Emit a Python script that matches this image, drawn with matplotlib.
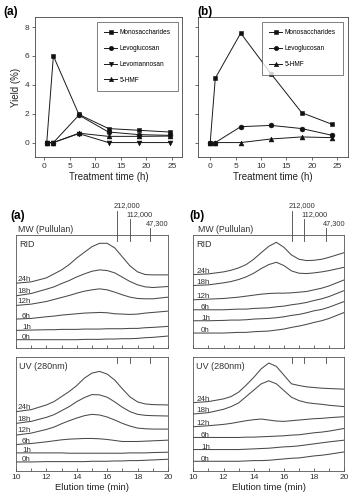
import matplotlib
matplotlib.use('Agg')
import matplotlib.pyplot as plt
from matplotlib.ticker import MultipleLocator, NullLocator
import matplotlib.transforms as mtransforms

plt.rcParams['font.family'] = ['Liberation Sans', 'DejaVu Sans']

W, H = 352, 494
fig = plt.figure(figsize=(W / 100, H / 100), dpi=100)


def rect(l, r, t, b):
    return [l / W, 1 - b / H, (r - l) / W, (b - t) / H]


# ---------------- data: yields ----------------
time_a = [0.5, 1.8, 6.8, 12.6, 18.6, 24.6]
mono_a = [0, 6.0, 1.95, 0.97, 0.85, 0.73]
levoglucosan_a = [0, 0, 1.9, 0.73, 0.55, 0.5]
levomannosan_a = [0, 0, 0.62, 0, 0, 0]
hmf_a = [0, 0, 0.65, 0.43, 0.43, 0.45]

time_b = [0, 1, 6, 12, 18, 24]
mono_b = [0, 4.46, 7.58, 4.75, 2.07, 1.26]
levoglucosan_b = [0, 0, 1.1, 1.19, 0.97, 0.5]
hmf_b = [0, 0, 0, 0.25, 0.39, 0.34]

yield_ticks = [0, 2, 4, 6, 8]
time_ticks = [0, 5, 10, 15, 20, 25]

# ---------------- data: chromatograms ----------------
elution = [10, 11, 12, 12.5, 13, 13.5, 14, 14.5, 15, 15.5, 16, 16.5, 17, 17.5, 18, 18.5, 19, 20]
hours = ['0h', '1h', '6h', '12h', '18h', '24h']

rid_a = [
    [25, 25, 25, 25, 25, 25, 25, 26, 26, 26, 27, 27, 28, 28, 29, 31, 32, 36],
    [53, 54, 55, 55, 56, 56, 56, 57, 57, 57, 58, 58, 58, 59, 59, 61, 62, 65],
    [87, 89, 94, 96, 99, 101, 103, 105, 106, 107, 106, 103, 102, 101, 102, 105, 107, 111],
    [128, 132, 140, 146, 152, 158, 165, 171, 175, 178, 175, 168, 160, 153, 149, 148, 148, 153],
    [157, 164, 177, 184, 194, 203, 214, 223, 231, 235, 233, 226, 213, 200, 190, 184, 182, 185],
    [195, 199, 211, 223, 235, 251, 271, 288, 305, 315, 315, 301, 274, 247, 229, 221, 220, 220],
]
uv_a = [
    [27, 27, 28, 28, 28, 28, 28, 28, 29, 29, 29, 30, 30, 31, 31, 32, 33, 35],
    [54, 54, 54, 54, 54, 53, 53, 53, 53, 53, 53, 53, 53, 54, 54, 54, 55, 56],
    [79, 82, 87, 90, 93, 95, 96, 97, 97, 96, 94, 91, 88, 88, 88, 89, 90, 92],
    [107, 113, 124, 131, 141, 150, 158, 165, 169, 167, 161, 152, 142, 134, 128, 126, 125, 125],
    [142, 148, 160, 168, 180, 192, 207, 219, 228, 227, 220, 206, 190, 177, 169, 166, 165, 164],
    [177, 183, 197, 207, 222, 237, 255, 277, 292, 297, 289, 271, 245, 221, 206, 200, 198, 197],
]
rid_b = [
    [45, 45, 45, 46, 47, 47, 49, 50, 51, 54, 57, 62, 66, 71, 77, 82, 89, 107],
    [82, 82, 83, 84, 84, 85, 87, 88, 89, 91, 94, 98, 101, 106, 112, 116, 123, 140],
    [115, 115, 115, 116, 117, 117, 119, 120, 121, 124, 126, 130, 133, 137, 143, 148, 155, 173],
    [145, 147, 149, 151, 153, 156, 159, 162, 164, 165, 165, 166, 168, 170, 175, 180, 187, 205],
    [188, 190, 196, 200, 206, 214, 225, 239, 251, 258, 248, 232, 225, 224, 226, 229, 233, 243],
    [221, 223, 229, 234, 241, 251, 267, 287, 306, 318, 303, 280, 267, 263, 264, 267, 273, 287],
]
uv_b = [
    [29, 29, 29, 29, 29, 30, 31, 31, 32, 34, 36, 38, 39, 42, 45, 47, 50, 57],
    [64, 64, 64, 64, 64, 65, 66, 67, 68, 70, 72, 73, 75, 78, 81, 84, 87, 92],
    [100, 100, 100, 100, 100, 101, 101, 102, 103, 104, 105, 107, 108, 111, 114, 116, 119, 127],
    [132, 135, 139, 142, 146, 150, 153, 155, 152, 149, 148, 150, 152, 154, 156, 157, 159, 162],
    [170, 174, 184, 192, 203, 222, 241, 260, 269, 260, 240, 220, 210, 204, 201, 199, 196, 192],
    [204, 207, 215, 222, 235, 256, 279, 305, 322, 312, 286, 260, 255, 251, 249, 247, 246, 244],
]

mw_labels = ['212,000', '112,000', '47,300']
mw_time_a = [16.64, 17.47, 18.79]
mw_time_b = [16.52, 17.35, 18.79]

# ---------------- top panels ----------------
mk = dict(color='#1a1a1a', lw=0.7, markersize=3.5, markeredgewidth=0.4,
          markeredgecolor='#111111', markerfacecolor='#111111')


def style_top(ax, xlim, show_ylabels):
    ax.set_xlim(*xlim)
    ax.set_ylim(-1.0, 8.7)
    ax.set_xticks(time_ticks)
    ax.set_yticks(yield_ticks)
    ax.tick_params(axis='both', direction='out', length=2, width=0.5,
                   labelsize=6, pad=2, colors='#333333')
    if not show_ylabels:
        ax.set_yticklabels([])
    for s in ax.spines.values():
        s.set_linewidth(0.6)
        s.set_color('#444444')
    ax.set_xlabel('Treatment time (h)', fontsize=7, labelpad=2, color='#222222')


def make_legend(ax, right_frac, top_frac):
    leg = ax.legend(loc='upper right', bbox_to_anchor=(right_frac, top_frac),
                    fontsize=4.7, frameon=True, fancybox=False, borderaxespad=0,
                    labelspacing=1.35, handlelength=2.0, handletextpad=0.4,
                    borderpad=1.1, markerscale=0.9)
    leg.get_frame().set_edgecolor('#444444')
    leg.get_frame().set_linewidth(0.6)
    return leg


ax1 = fig.add_axes(rect(35, 182, 17, 157))
ax1.plot(time_a, mono_a, marker='s', label='Monosaccharides', **mk)
ax1.plot(time_a, levoglucosan_a, marker='o', label='Levoglucosan', **mk)
ax1.plot(time_a, levomannosan_a, marker='v', label='Levomannosan', **mk)
ax1.plot(time_a, hmf_a, marker='^', label='5-HMF', **mk)
style_top(ax1, (-1.8, 27.0), True)
ax1.set_ylabel('Yield (%)', fontsize=7, labelpad=3, color='#222222')
make_legend(ax1, (178 - 35) / 147, (157 - 22) / 140)

ax2 = fig.add_axes(rect(198, 348, 17, 157))
ax2.plot(time_b, mono_b, marker='s', label='Monosaccharides', **mk)
ax2.plot(time_b, levoglucosan_b, marker='o', label='Levoglucosan', **mk)
ax2.plot(time_b, hmf_b, marker='^', label='5-HMF', **mk)
style_top(ax2, (-2.4, 27.1), False)
make_legend(ax2, (343 - 198) / 150, (157 - 22) / 140)

fig.text(3 / W, 1 - 12.5 / H, '(a)', fontsize=8.5, fontweight='bold', va='center', ha='left')
fig.text(197 / W, 1 - 12.5 / H, '(b)', fontsize=8.5, fontweight='bold', va='center', ha='left')

# ---------------- chromatograms ----------------
trace_kw = dict(color='#4a4a4a', lw=0.75)


def style_chrom(ax, bottom_labels):
    ax.set_xlim(10, 20)
    ax.set_ylim(0, 340)
    ax.yaxis.set_major_locator(NullLocator())
    ax.xaxis.set_major_locator(MultipleLocator(2))
    ax.xaxis.set_minor_locator(MultipleLocator(1))
    ax.tick_params(axis='x', which='both', direction='in', length=2.5, width=0.5,
                   labelsize=6, pad=2, colors='#333333')
    if not bottom_labels:
        ax.set_xticklabels([])
    for s in ax.spines.values():
        s.set_linewidth(0.6)
        s.set_color('#555555')


def draw_traces(ax, traces, label_x):
    for name, tr in zip(hours, traces):
        ax.plot(elution, tr, **trace_kw)
        ax.text(label_x, tr[1] + 2, name, fontsize=5.8, ha='right', va='baseline',
                color='#333333')


def mw_marks(ax_rid, ax_uv, mw_times):
    trans = mtransforms.blended_transform_factory(ax_rid.transData, ax_rid.transAxes)
    tops = [1.215, 1.142, 1.062]
    for t, lab, top in zip(mw_times, mw_labels, tops):
        ax_rid.plot([t, t], [0.947, top], transform=trans, clip_on=False,
                    color='#444444', lw=0.6)
        ax_rid.text(t - 0.22, top + 0.012, lab, transform=trans, fontsize=5.3,
                    ha='left', va='bottom', color='#333333')
    trans2 = mtransforms.blended_transform_factory(ax_uv.transData, ax_uv.transAxes)
    for t in mw_times:
        ax_uv.plot([t, t], [0.947, 1.0], transform=trans2, clip_on=False,
                   color='#444444', lw=0.6)


ax3 = fig.add_axes(rect(16, 168, 235, 348))
draw_traces(ax3, rid_a, 10.98)
style_chrom(ax3, False)
ax3.text(0.02, 0.955, 'RID', transform=ax3.transAxes, fontsize=6.5, va='top', ha='left',
         color='#333333')

ax4 = fig.add_axes(rect(16, 168, 357, 471))
draw_traces(ax4, uv_a, 10.98)
style_chrom(ax4, True)
ax4.text(0.02, 0.955, 'UV (280nm)', transform=ax4.transAxes, fontsize=6.5, va='top',
         ha='left', color='#333333')
ax4.set_xlabel('Elution time (min)', fontsize=6.8, labelpad=1.5, color='#222222')
mw_marks(ax3, ax4, mw_time_a)

ax5 = fig.add_axes(rect(193.3, 344.3, 235, 348))
draw_traces(ax5, rid_b, 11.1)
style_chrom(ax5, False)
ax5.text(0.02, 0.955, 'RID', transform=ax5.transAxes, fontsize=6.5, va='top', ha='left',
         color='#333333')

ax6 = fig.add_axes(rect(193.3, 344.3, 357, 471))
draw_traces(ax6, uv_b, 11.1)
style_chrom(ax6, True)
ax6.text(0.02, 0.955, 'UV (280nm)', transform=ax6.transAxes, fontsize=6.5, va='top',
         ha='left', color='#333333')
ax6.set_xlabel('Elution time (min)', fontsize=6.8, labelpad=1.5, color='#222222')
mw_marks(ax5, ax6, mw_time_b)

fig.text(10 / W, 1 - 216 / H, '(a)', fontsize=8.5, fontweight='bold', va='center', ha='left')
fig.text(189 / W, 1 - 216 / H, '(b)', fontsize=8.5, fontweight='bold', va='center', ha='left')
fig.text(18 / W, 1 - 229 / H, 'MW (Pullulan)', fontsize=6.3, va='center', ha='left',
         color='#333333')
fig.text(198 / W, 1 - 229 / H, 'MW (Pullulan)', fontsize=6.3, va='center', ha='left',
         color='#333333')

fig.savefig('out.png', dpi=100)
